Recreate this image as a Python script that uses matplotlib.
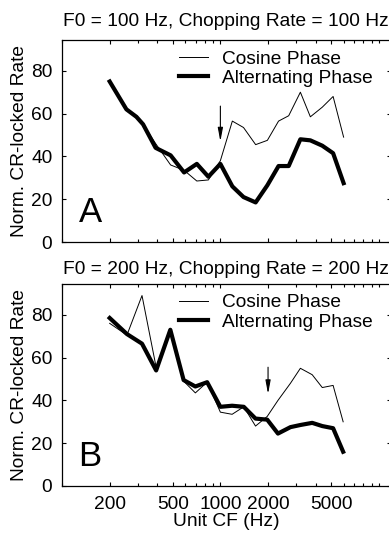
import numpy as np
import matplotlib.pyplot as plt
from matplotlib.ticker import FixedLocator, LogLocator, NullFormatter

plt.rcParams['font.family'] = ['Liberation Sans', 'DejaVu Sans']

# panel A: F0 = 100 Hz
cf_a = [200, 255, 295, 325, 390, 485, 590, 710, 840, 1000, 1190,
        1400, 1670, 1980, 2330, 2700, 3200, 3700, 4400, 5150, 6000]
cos_a = [75, 62, 58.5, 55, 46, 36, 33.5, 28.5, 29, 38, 56.5,
         53.5, 45.5, 47.5, 56.5, 59, 70, 58.5, 63, 68, 49]
alt_a = [75, 62, 58.5, 55, 44, 40.5, 32.5, 36.5, 30.5, 36.5, 26,
         21, 18.5, 26.5, 35.5, 35.5, 48, 47.5, 45, 41.5, 27.5]

# panel B: F0 = 200 Hz
cf_b = [200, 257, 320, 393, 483, 586, 695, 825, 1000, 1186, 1405,
        1667, 1976, 2310, 2770, 3200, 3800, 4400, 5150, 5960]
cos_b = [76, 70.5, 89, 55.5, 73, 49, 43.5, 48.5, 34.5, 33.5, 37,
         28, 32.5, 40, 48, 55, 52, 46, 47, 30]
alt_b = [78.5, 71, 66.5, 54, 73, 49.5, 46.5, 48.5, 37, 37.5, 37,
         31.5, 31, 24.5, 27.5, 28.5, 29.5, 28, 27, 16]

titles = ['F0 = 100 Hz, Chopping Rate = 100 Hz',
          'F0 = 200 Hz, Chopping Rate = 200 Hz']
letters = ['A', 'B']
arrow_cf = [1000, 2000]
arrow_y = [(63.5, 47), (55.5, 43)]
xticks = [200, 500, 1000, 2000, 5000]
yticks = [0, 20, 40, 60, 80]

fs = 13.8
fig = plt.figure(figsize=(3.89, 5.36), dpi=100)
ax_a = fig.add_axes([0.1594, 0.5485, 0.845, 0.3769])
ax_b = fig.add_axes([0.1594, 0.0933, 0.845, 0.3769])

panels = [(ax_a, cf_a, cos_a, alt_a), (ax_b, cf_b, cos_b, alt_b)]
for i, (ax, cf, cos, alt) in enumerate(panels):
    ax.plot(cf, cos, color='black', lw=0.7, label='Cosine Phase')
    ax.plot(cf, alt, color='black', lw=3, label='Alternating Phase')
    ax.set_xscale('log')
    ax.set_xlim(100, 11900)
    ax.set_ylim(0, 94.4)
    ax.xaxis.set_major_locator(FixedLocator(xticks))
    ax.xaxis.set_minor_locator(LogLocator(base=10, subs=np.arange(1, 10)))
    ax.xaxis.set_minor_formatter(NullFormatter())
    ax.set_yticks(yticks)
    ax.tick_params(which='both', direction='in', top=True, right=True,
                   labelsize=fs, pad=7, length=3, width=0.8)
    ax.tick_params(which='minor', length=2)
    if i == 0:
        ax.tick_params(labelbottom=False)
    else:
        ax.set_xticklabels([str(t) for t in xticks])
        ax.set_xlabel('Unit CF (Hz)', fontsize=fs, labelpad=0)
    ax.set_ylabel('Norm. CR-locked Rate', fontsize=fs, labelpad=2)
    ax.set_title(titles[i], fontsize=fs, pad=10 if i == 0 else 7.5)
    ax.text(0.05, 0.099, letters[i], transform=ax.transAxes,
            fontsize=25, ha='left', va='baseline')
    ax.annotate('', xy=(arrow_cf[i], arrow_y[i][1]),
                xytext=(arrow_cf[i], arrow_y[i][0]),
                arrowprops=dict(arrowstyle='-|>,head_width=0.15,head_length=0.8',
                                color='black', lw=0.8, shrinkA=0, shrinkB=0))
    ax.legend(loc='upper left', bbox_to_anchor=(0.357, 0.95), frameon=False,
              fontsize=fs, borderpad=0, borderaxespad=0, handlelength=1.5,
              handletextpad=0.7, labelspacing=0.1)
    for s in ax.spines.values():
        s.set_linewidth(0.9)

plt.savefig('out.png', dpi=100)
